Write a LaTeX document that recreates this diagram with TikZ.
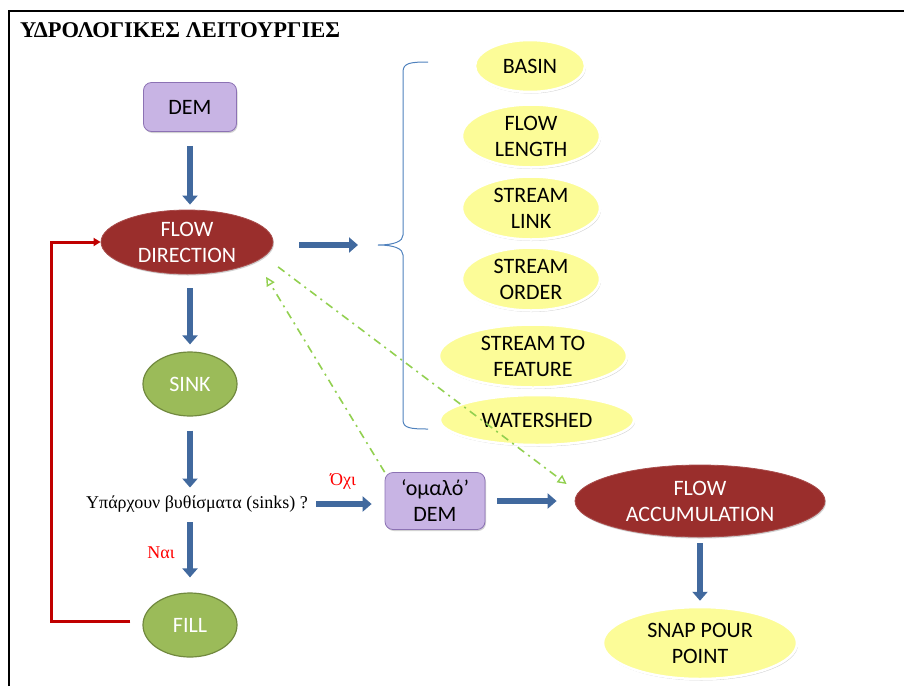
\documentclass[tikz,border=0pt]{standalone}
\usepackage{fontspec}
\setmainfont{Carlito}
\newfontfamily\timesgr{Liberation Serif}
\usetikzlibrary{shapes.geometric, arrows.meta, shadows, calc}

\definecolor{lilac}{HTML}{C8B4E4}
\definecolor{lilacedge}{HTML}{8C72B4}
\definecolor{wine}{HTML}{9A2E2C}
\definecolor{olive}{HTML}{9BBB59}
\definecolor{oliveedge}{HTML}{71893F}
\definecolor{lemon}{HTML}{FCFC98}
\definecolor{arrowblue}{HTML}{41699E}
\definecolor{bracecol}{HTML}{4F81BD}
\definecolor{loopred}{HTML}{C00000}
\definecolor{dashgreen}{HTML}{92D050}

\tikzset{
  nodefont/.style={font=\fontsize{22}{26}\selectfont, align=center, inner sep=0pt},
  softshadow/.style={drop shadow={shadow xshift=1pt, shadow yshift=-1.5pt, opacity=0.25, fill=black!70}},
  purplebox/.style={nodefont, rectangle, rounded corners=8pt, fill=lilac, draw=lilacedge, line width=0.8pt, text=black, softshadow},
  redoval/.style={nodefont, ellipse, fill=wine, draw=wine!85!white, line width=0.8pt, text=white, softshadow},
  greenoval/.style={nodefont, ellipse, fill=olive, draw=oliveedge, line width=1.2pt, text=white},
  yellowoval/.style={nodefont, ellipse, fill=lemon, draw=white, line width=2.5pt, text=black, softshadow},
  barrow/.style={draw=arrowblue, line width=6.5pt, -{Triangle[length=9pt, width=15pt]}},
  redloop/.style={draw=loopred, line width=3pt, line join=miter, -{Triangle[length=7pt, width=8pt]}},
  greendash/.style={draw=dashgreen, line width=1.6pt, dash pattern=on 8pt off 5pt on 2pt off 5pt, -{Triangle[open, length=9pt, width=9pt, line width=1.4pt]}},
  serifnote/.style={font=\timesgr\fontsize{18}{21}\selectfont, inner sep=0pt},
}

\begin{document}
\begin{tikzpicture}[x=1pt, y=-1pt]
\useasboundingbox (0,0) rectangle (904,686);

% frame and title
\draw[line width=2.5pt] (9,686) -- (9,11) -- (904,11);
\node[anchor=base west, font=\timesgr\bfseries\fontsize{22.5}{26}\selectfont, inner sep=0pt] (title) at (20,37) {ΥΔΡΟΛΟΓΙΚΕΣ ΛΕΙΤΟΥΡΓΙΕΣ};

% main chain on the left
\node[purplebox, minimum width=93pt, minimum height=49pt] (dem) at (190,107) {DEM};
\node[redoval, minimum width=172pt, minimum height=64pt] (fd) at (187,242) {FLOW\\DIRECTION};
\node[greenoval, minimum width=94pt, minimum height=64pt] (sink) at (190,384) {SINK};
\node[serifnote] (q) at (197,504) {Υπάρχουν βυθίσματα (sinks) ?};
\node[greenoval, minimum width=94pt, minimum height=64pt] (fill) at (190,625) {FILL};

% smoothed DEM and flow accumulation
\node[purplebox, minimum width=100pt, minimum height=57pt] (omalo) at (435,501) {‘ομαλό’\\DEM};
\node[redoval, minimum width=250pt, minimum height=72pt] (fa) at (700,501) {FLOW\\ACCUMULATION};
\node[yellowoval, minimum width=194pt, minimum height=72pt] (snap) at (700,643) {SNAP POUR\\POINT};

% derived products
\node[yellowoval, minimum width=110pt, minimum height=52pt] (basin) at (530,66) {BASIN};
\node[yellowoval, minimum width=138pt, minimum height=63pt] (flen) at (531,136) {FLOW\\LENGTH};
\node[yellowoval, minimum width=138pt, minimum height=63pt] (slink) at (531,208) {STREAM\\LINK};
\node[yellowoval, minimum width=138pt, minimum height=63pt] (sorder) at (531,279) {STREAM\\ORDER};
\node[yellowoval, minimum width=188pt, minimum height=63pt] (sfeat) at (533,356) {STREAM TO\\FEATURE};
\node[yellowoval, minimum width=194pt, minimum height=50pt] (wshed) at (537,420) {WATERSHED};

% brace grouping the products
\draw[bracecol, line width=1pt]
  (428,62) .. controls (410,62) and (403,63) .. (403,72) -- (403,235)
  .. controls (403,241) and (395,245) .. (378,245)
  .. controls (395,245) and (403,249) .. (403,255) -- (403,420)
  .. controls (403,428) and (410,429) .. (428,429);
\coordinate (bracetip) at (378,245);

% block arrows
\draw[barrow, shorten <=14pt, shorten >=5pt] (dem.south) -- (dem.south |- fd.north);
\draw[barrow, shorten <=14pt, shorten >=7pt] (dem.south |- fd.south) -- (sink.north);
\draw[barrow, shorten <=14pt, shorten >=8pt] (sink.south) -- (sink.south |- q.north);
\draw[barrow, shorten <=10pt, shorten >=15pt] (sink.south |- q.south) -- (fill.north);
\draw[barrow, shorten <=8pt, shorten >=13pt] (q.east) -- (q.east -| omalo.west);
\draw[barrow, shorten <=12pt, shorten >=18pt] (omalo.east) -- (omalo.east -| fa.west);
\draw[barrow, shorten <=6pt, shorten >=5pt] (fa) -- (snap);
\draw[barrow, shorten <=26pt, shorten >=20pt] (fd.east |- bracetip) -- (bracetip);

% answers
\node[serifnote, text=red] (ochi) at (343,481) {Όχι};
\node[serifnote, text=red] (nai) at (161,553) {Ναι};

% loop back from FILL to FLOW DIRECTION
\draw[redloop] ([xshift=-12pt, yshift=4pt]fill.west) -- ++(-79,0) |- (fd.west);

% dash-dot links
\draw[greendash] (omalo.north west) -- ($(fd.south east)+(18,12)$);
\draw[greendash] ($(fd.south east)+(30,2)$) -- ($(fa.west)+(-8,-17)$);
\end{tikzpicture}
\end{document}
